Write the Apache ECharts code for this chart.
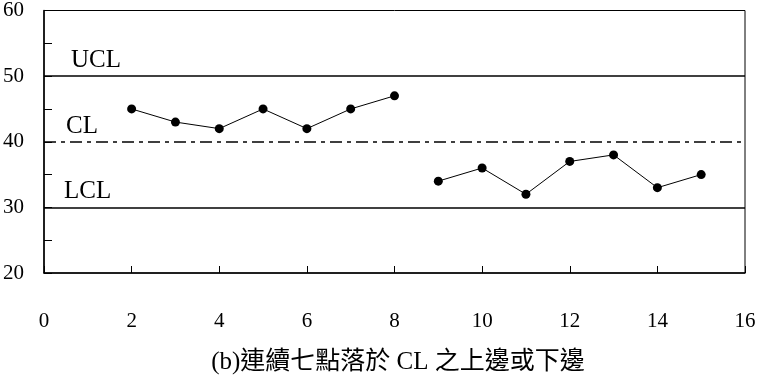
<!DOCTYPE html>
<html><head><meta charset="utf-8">
<script src="https://cdn.jsdelivr.net/npm/echarts@6/dist/echarts.min.js"></script>
<style>html,body{margin:0;padding:0;background:#fff}#c{width:766px;height:384px}</style>
</head><body><div id="c"></div>
<script>
const xValues = [2,3,4,5,6,7,8,9,10,11,12,13,14,15];
const yValues = [45,43,42,45,42,45,47,34,36,32,37,38,33,35];
const breakAfter = 8; // gap between x=8 and x=9
const controlNames = ['UCL','CL','LCL'];
const controlValues = [50,40,30];
const titleText = '(b)連續七點落於 CL 之上邊或下邊';

const seriesData = [];
xValues.forEach((x,i)=>{
  seriesData.push([x,yValues[i]]);
  if (x===breakAfter) seriesData.push([x+0.5,null]);
});
const serif = '"Liberation Serif","Times New Roman",serif';
const chart = echarts.init(document.getElementById('c'));
chart.setOption({
  animation:false,
  backgroundColor:'#fff',
  title:{text:titleText,left:393,textAlign:'center',top:345,textStyle:{fontFamily:'"Liberation Serif","Noto Sans CJK TC",serif',fontSize:25,fontWeight:'normal',color:'#000'}},
  grid:{left:40,right:21,top:10,bottom:111,show:true,borderColor:'#000',borderWidth:1,backgroundColor:'transparent'},
  xAxis:{type:'value',min:0,max:16,interval:2,
    axisLine:{lineStyle:{color:'#000',width:1.5}},
    axisTick:{inside:true,length:7,lineStyle:{color:'#000'}},
    splitLine:{show:false},
    axisLabel:{margin:38,color:'#000',fontFamily:serif,fontSize:21}},
  yAxis:{type:'value',min:20,max:60,interval:5,
    axisLine:{show:true,lineStyle:{color:'#000',width:1.5}},
    axisTick:{show:true,inside:true,length:8,lineStyle:{color:'#000'}},
    splitLine:{show:false},
    axisLabel:{margin:20,color:'#000',fontFamily:serif,fontSize:21,
      formatter:v=>v%10===0?String(v):''}},
  series:[{
    type:'line',data:seriesData,connectNulls:false,
    symbol:'circle',symbolSize:9,
    lineStyle:{color:'#000',width:1},
    itemStyle:{color:'#000'},
    markLine:{silent:true,symbol:'none',
      data:controlNames.map((n,i)=>({
        yAxis:controlValues[i],name:n,
        lineStyle:{color:'#000',width:1.5,type:n==='CL'?[12,5,4,5]:'solid'},
        label:{show:true,formatter:n,position:'insideStartTop',distance:[n==='UCL'?27:(n==='CL'?22:20),3],
          color:'#000',fontFamily:serif,fontSize:25}
      }))}
  }]
});
</script></body></html>
